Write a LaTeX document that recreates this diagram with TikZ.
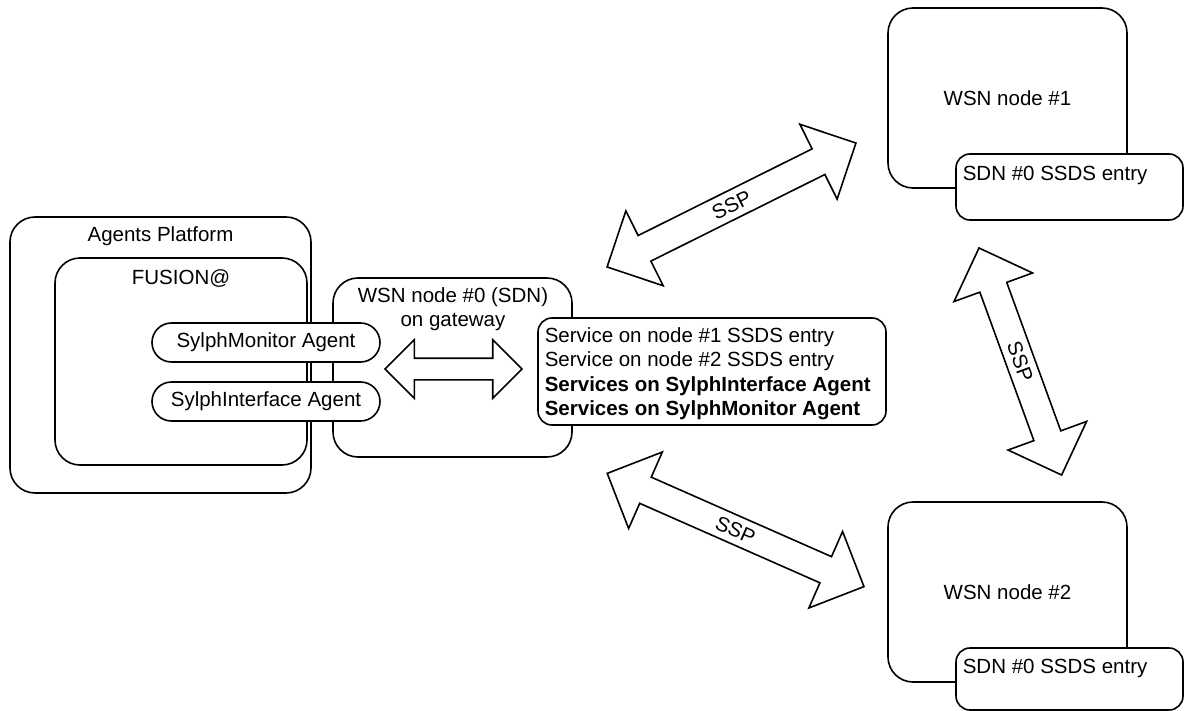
\documentclass[tikz,border=0pt]{standalone}
\usepackage{fontspec}
\setmainfont{Liberation Sans}
\usetikzlibrary{shapes.arrows}
\begin{document}
\begin{tikzpicture}[x=1pt,y=-1pt, line width=1.6pt,
  font=\fontsize{20.5}{24.4}\selectfont,
  box/.style={draw, rounded corners=25pt, fill=white, inner sep=0pt},
  pill/.style={draw, rounded corners=19.5pt, fill=white, minimum width=228pt, minimum height=39pt, inner sep=0pt},
  entry/.style={draw, rounded corners=14pt, fill=white, inner sep=0pt},
  lbl/.style={inner sep=0pt},
  boldlbl/.style={inner sep=0pt, font=\fontsize{20.5}{24.4}\selectfont\bfseries},
  blockarrow/.style={double arrow, draw, fill=white, double arrow tip angle=90, inner sep=0pt,
     text height=20.65pt, text depth=6.35pt, double arrow head extend=27.5pt, minimum width=82pt}
]
\useasboundingbox (0,0) rectangle (1185,711);

% left platform
\node[box, minimum width=301pt, minimum height=276pt] (ap) at (160.5,355) {};
\node[lbl, anchor=base] (aplbl) at (160.5,242) {Agents Platform};
\node[box, minimum width=252pt, minimum height=207pt] (fus) at (181,361.5) {};
\node[lbl, anchor=base] (fuslbl) at (181,284) {FUSION@};

% WSN node #0
\node[box, minimum width=239pt, minimum height=179pt] (w0) at (452.5,367.5) {};
\node[lbl, anchor=base] (w0a) at (453,302) {WSN node \#0 (SDN)};
\node[lbl, anchor=base] (w0b) at (453,326) {on gateway};

% agents
\node[pill] (mon) at (266,342.5) {SylphMonitor Agent};
\node[pill] (int) at (266,401.5) {SylphInterface Agent};

% services box
\node[entry, minimum width=348pt, minimum height=107pt] (svc) at (712,371.5) {};
\node[lbl, anchor=base west] (s1) at (544,342) {Service on node \#1 SSDS entry};
\node[lbl, anchor=base west] (s2) at (544,366) {Service on node \#2 SSDS entry};
\node[boldlbl, anchor=base west] (s3) at (544,391) {Services on SylphInterface Agent};
\node[boldlbl, anchor=base west] (s4) at (544,415) {Services on SylphMonitor Agent};

% horizontal arrow
\node[double arrow, draw, fill=white, double arrow tip angle=90, inner sep=0pt,
      text height=10pt, text depth=10pt, double arrow head extend=18.5pt,
      minimum width=57pt, minimum height=137pt] (harr) at (453.5,369) {};

% WSN node #1
\node[box, minimum width=239pt, minimum height=180pt] (w1) at (1007.5,98) {WSN node \#1};
\node[entry, minimum width=227pt, minimum height=66pt] (e1) at (1069.5,187) {};
\node[lbl, anchor=base west] (e1t) at (962,181) {SDN \#0 SSDS entry};

% WSN node #2
\node[box, minimum width=239pt, minimum height=180pt] (w2) at (1007.5,592) {WSN node \#2};
\node[entry, minimum width=227pt, minimum height=62pt] (e2) at (1069.5,679) {};
\node[lbl, anchor=base west] (e2t) at (962,673) {SDN \#0 SSDS entry};

% SSP arrows
\node[blockarrow, minimum height=278pt, rotate=26.47] (ssp1) at (731.5,205) {SSP};
\node[blockarrow, minimum height=280.6pt, rotate=-23.8] (ssp2) at (735.6,530) {SSP};
\node[blockarrow, minimum height=241.6pt, rotate=-70] (ssp3) at (1020.3,361.5) {SSP};
\end{tikzpicture}
\end{document}
